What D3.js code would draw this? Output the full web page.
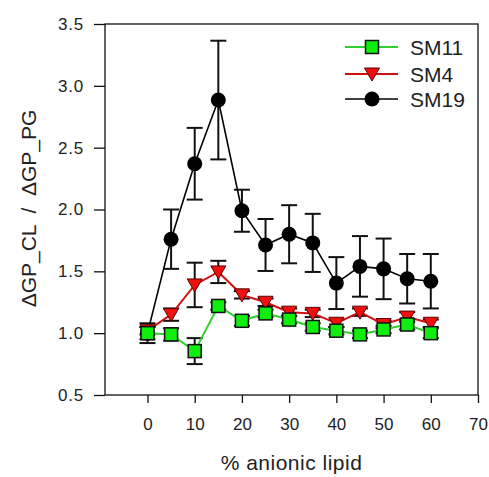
<!DOCTYPE html>
<html lang="en">
<head>
<meta charset="UTF-8">
<title>GP ratio</title>
<script src="https://cdn.jsdelivr.net/npm/d3@7"></script>
<style>
    body { margin: 0; background: #fff; }
    text { font-family: "Liberation Sans", Arial, sans-serif; fill: #222; }
</style>
</head>
<body>
<div id="chart"></div>
<script>
// data
const xVals  = [0, 5, 10, 15, 20, 25, 30, 35, 40, 45, 50, 55, 60];
const sm11   = [1.00, 0.99, 0.855, 1.22, 1.10, 1.16, 1.11, 1.05, 1.02, 0.99, 1.03, 1.07, 1.00];
const sm11Err = [0.05, 0.05, 0.105, 0.03, 0.04, 0.03, 0.03, 0.03, 0.03, 0.03, 0.03, 0.04, 0.04];
const sm4    = [1.02, 1.15, 1.39, 1.495, 1.31, 1.25, 1.17, 1.16, 1.08, 1.17, 1.07, 1.13, 1.08];
const sm4Err = [0.03, 0.05, 0.18, 0.09, 0.03, 0.03, 0.03, 0.03, 0.03, 0.03, 0.03, 0.04, 0.03];
const sm19   = [1.00, 1.76, 2.37, 2.885, 1.99, 1.713, 1.80, 1.73, 1.405, 1.54, 1.52, 1.44, 1.42];
const sm19Err = [0.08, 0.24, 0.29, 0.48, 0.17, 0.21, 0.235, 0.235, 0.21, 0.245, 0.245, 0.20, 0.22];
const xTicks = [0, 10, 20, 30, 40, 50, 60, 70];
const yTicks = [0.5, 1.0, 1.5, 2.0, 2.5, 3.0, 3.5];

const w = 489, h = 477;
const pLeft = 105, pRight = 478, pTop = 24, pBottom = 395;

const svg = d3.select('#chart').append('svg')
    .attr('width', w)
    .attr('height', h);

const x = d3.scaleLinear().domain([-9, 70]).range([pLeft, pRight]);
const y = d3.scaleLinear().domain([0.5, 3.5]).range([pBottom, pTop]);

// axes
const xAxis = svg.append('g')
    .attr('transform', `translate(0, ${pBottom})`)
    .call(d3.axisBottom(x).tickValues(xTicks).tickSize(8).tickSizeOuter(0).tickPadding(15));
const yAxis = svg.append('g')
    .attr('transform', `translate(${pLeft}, 0)`)
    .call(d3.axisLeft(y).tickValues(yTicks).tickFormat(d3.format('.1f')).tickSize(11).tickSizeOuter(0).tickPadding(10));

[xAxis, yAxis].forEach(a => {
    a.select('.domain').remove();
    a.selectAll('line').attr('stroke', '#111').attr('stroke-width', 1.3);
    a.selectAll('text').attr('font-size', 17).attr('fill', '#222')
        .style('font-family', '"Liberation Sans", Arial, sans-serif');
});
yAxis.selectAll('text').attr('letter-spacing', 0.8);

// frame
svg.append('rect')
    .attr('x', pLeft).attr('y', pTop)
    .attr('width', pRight - pLeft).attr('height', pBottom - pTop)
    .attr('fill', 'none').attr('stroke', '#111').attr('stroke-width', 1.3);

// axis titles
svg.append('text')
    .attr('x', (pLeft + pRight) / 2).attr('y', 470)
    .attr('text-anchor', 'middle')
    .attr('font-size', 21)
    .attr('letter-spacing', 0.5)
    .text('% anionic lipid');

svg.append('text')
    .attr('transform', `translate(36, ${(pTop + pBottom) / 2 - 1}) rotate(-90)`)
    .attr('text-anchor', 'middle')
    .attr('font-size', 21)
    .style('white-space', 'pre')
    .text('\u0394GP_CL  /  \u0394GP_PG');

const series = [
    {name: 'SM19', vals: sm19, err: sm19Err, line: '#000', lw: 1.6, shape: 'circle', fill: '#000'},
    {name: 'SM4', vals: sm4, err: sm4Err, line: '#d01010', lw: 2, shape: 'tri', fill: '#f01010'},
    {name: 'SM11', vals: sm11, err: sm11Err, line: '#30d030', lw: 2, shape: 'square', fill: '#10ee10'}
];

function marker(g, shape, fill) {
    if (shape === 'circle') {
        g.append('circle').attr('r', 7.5).attr('fill', fill);
    } else if (shape === 'square') {
        g.append('rect').attr('x', -6.5).attr('y', -6.5).attr('width', 13).attr('height', 13)
            .attr('fill', fill).attr('stroke', '#111').attr('stroke-width', 1.5);
    } else {
        g.append('path').attr('d', 'M-7.5,-6L7.5,-6L0,7Z')
            .attr('fill', fill).attr('stroke', '#5a0000').attr('stroke-width', 1);
    }
}

const line = d3.line().x((d, i) => x(xVals[i])).y(d => y(d));

series.forEach(s => {
    const g = svg.append('g');
    // error bars
    s.vals.forEach((v, i) => {
        const cx = x(xVals[i]);
        const y1 = y(v + s.err[i]), y2 = y(v - s.err[i]);
        g.append('line').attr('x1', cx).attr('x2', cx).attr('y1', y1).attr('y2', y2)
            .attr('stroke', '#111').attr('stroke-width', 2);
        [y1, y2].forEach(yy => {
            g.append('line').attr('x1', cx - 8).attr('x2', cx + 8).attr('y1', yy).attr('y2', yy)
                .attr('stroke', '#111').attr('stroke-width', 2);
        });
    });
    g.append('path').datum(s.vals)
        .attr('d', line)
        .attr('fill', 'none')
        .attr('stroke', s.line)
        .attr('stroke-width', s.lw);
    s.vals.forEach((v, i) => {
        const m = g.append('g').attr('transform', `translate(${x(xVals[i])}, ${y(v)})`);
        marker(m, s.shape, s.fill);
    });
});

// legend
const legend = [series[2], series[1], series[0]];
const legY = [47, 74, 99];
legend.forEach((s, i) => {
    const lg = svg.append('g').attr('transform', `translate(0, ${legY[i]})`);
    lg.append('line').attr('x1', 345).attr('x2', 398).attr('y1', 0).attr('y2', 0)
        .attr('stroke', s.line).attr('stroke-width', s.lw);
    const m = lg.append('g').attr('transform', 'translate(372, 0)');
    marker(m, s.shape, s.fill);
    lg.append('text').attr('x', 410).attr('y', 7.5)
        .attr('font-size', 21)
        .text(s.name);
});
</script>
</body>
</html>
